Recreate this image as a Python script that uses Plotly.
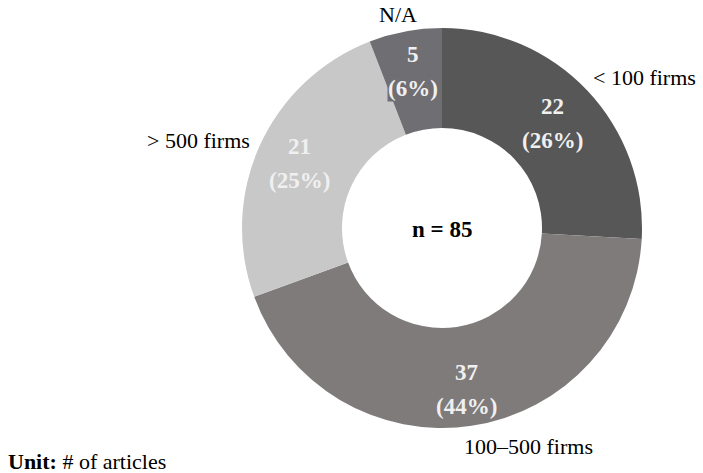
import math
import plotly.graph_objects as go

categories = ["< 100 firms", "100–500 firms", "> 500 firms", "N/A"]
values = [22, 37, 21, 5]
percents = ["26%", "44%", "25%", "6%"]
colors = ["#575757", "#7f7b7b", "#c8c8c8", "#6e6e73"]
total_label = "n = 85"
unit_note = "<b>Unit:</b> # of articles"

W, H = 703, 473
serif = "Liberation Serif, Times New Roman, serif"

# donut geometry (pixels)
CX, CY, R_OUT = 442, 228, 200
HOLE = 0.5

fig = go.Figure(go.Pie(
    labels=categories,
    values=values,
    textinfo="none",
    marker=dict(colors=colors, line=dict(width=0)),
    hole=HOLE,
    sort=False,
    direction="clockwise",
    rotation=0,
    showlegend=False,
    hoverinfo="label+value+percent",
    domain=dict(x=[(CX - R_OUT) / W, (CX + R_OUT) / W],
                y=[(H - CY - R_OUT) / H, (H - CY + R_OUT) / H]),
))

# inside value labels, placed at each slice's mid-angle (from the data)
text_radius = [152, 163, 156, 159]
total = sum(values)
cum = 0
for v, p, col, rr in zip(values, percents, colors, text_radius):
    mid = (cum + v / 2) / total * 2 * math.pi
    cum += v
    tx = CX + rr * math.sin(mid)
    ty = CY - rr * math.cos(mid)
    for line, off in ((f"<b>{v}</b>", -17), (f"<b>({p})</b>", 17)):
        fig.add_annotation(x=tx / W, y=1 - (ty + off) / H, xref="paper", yref="paper",
                           text=line, showarrow=False, xanchor="center", yanchor="middle",
                           bgcolor=col, borderpad=0,
                           font=dict(family=serif, size=23, color="#f0f0f0"))

# outside category labels
label_pos = {
    "< 100 firms": (644, 77),
    "100–500 firms": (528, 446),
    "> 500 firms": (198, 140),
    "N/A": (398, 14),
}
for cat in categories:
    px, py = label_pos[cat]
    fig.add_annotation(x=px / W, y=1 - py / H, xref="paper", yref="paper",
                       text=cat, showarrow=False, xanchor="center", yanchor="middle",
                       font=dict(family=serif, size=22, color="#000000"))

fig.add_annotation(x=CX / W, y=1 - 230 / H, xref="paper", yref="paper",
                   text=f"<b>{total_label}</b>", showarrow=False,
                   font=dict(family=serif, size=23, color="#000000"))

fig.add_annotation(x=6 / W, y=1 - 461 / H, xref="paper", yref="paper",
                   text=unit_note, showarrow=False, xanchor="left", yanchor="middle",
                   font=dict(family=serif, size=22, color="#000000"))

fig.update_layout(width=W, height=H, margin=dict(l=0, r=0, t=0, b=0),
                  paper_bgcolor="white", plot_bgcolor="white")

fig.write_html("out.html")
